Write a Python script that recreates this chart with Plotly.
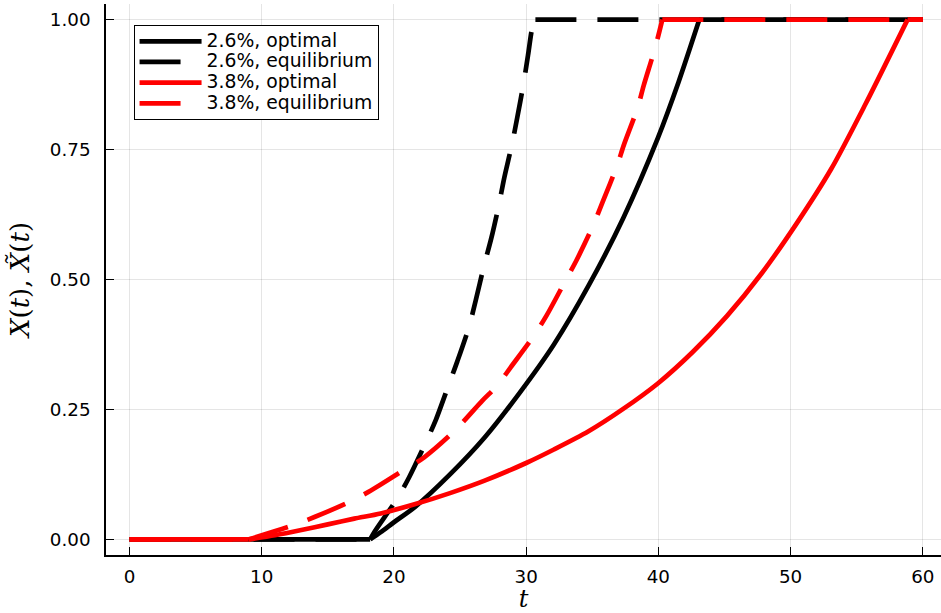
import plotly.graph_objects as go

# ---- data ----
# each series: flat at 0, rising curve, flat at 1 until t = 60
t_opt26 = [0, 18.2, 19.0, 20.0, 21.62, 24.24, 26.86, 29.48, 32.1, 34.72, 37.34, 39.96, 41.53, 43.1, 60]
x_opt26 = [0, 0, 0.014, 0.033, 0.063, 0.125, 0.196, 0.281, 0.375, 0.488, 0.618, 0.772, 0.88, 1.0, 1.0]

t_eq26 = [0, 18.2, 18.57, 20.28, 21.16, 22.42, 23.17, 24.18, 24.8, 25.69, 26.19, 26.8, 27.37, 27.95,
          28.33, 28.96, 29.33, 29.79, 30.14, 30.47, 30.7, 60]
x_eq26 = [0, 0, 0.016, 0.08, 0.12, 0.187, 0.23, 0.30, 0.343, 0.41, 0.46, 0.525, 0.58, 0.645,
          0.694, 0.764, 0.812, 0.875, 0.931, 0.985, 1.0, 1.0]

t_opt38 = [0, 9.0, 11.0, 13.0, 15.0, 17.0, 19.0, 21.62, 24.24, 26.86, 30.0, 32.1, 34.72, 37.34, 39.96,
           42.58, 45.2, 47.82, 50.44, 53.06, 55.68, 58.85, 60]
x_opt38 = [0, 0, 0.008, 0.018, 0.029, 0.040, 0.050, 0.068, 0.089, 0.113, 0.147, 0.173, 0.208, 0.251, 0.300,
           0.360, 0.430, 0.512, 0.607, 0.712, 0.838, 1.0, 1.0]

t_eq38 = [0, 9.0, 12.35, 13.99, 16.63, 18.26, 20.78, 22.29, 24.55, 26.69, 27.82, 28.83, 30.59,
          31.55, 32.98, 33.81, 35.07, 35.75, 36.88, 37.38, 38.44, 38.89, 39.77, 40.3, 60]
x_eq38 = [0, 0, 0.027, 0.043, 0.072, 0.094, 0.134, 0.158, 0.208, 0.267, 0.296, 0.331, 0.392,
          0.431, 0.498, 0.537, 0.604, 0.647, 0.719, 0.758, 0.831, 0.873, 0.947, 1.0, 1.0]

series_names = ["2.6%, optimal", "2.6%, equilibrium", "3.8%, optimal", "3.8%, equilibrium"]
series_colors = ["#000000", "#000000", "#FF0000", "#FF0000"]
series_dashed = [False, True, False, True]
x_ticks = [0, 10, 20, 30, 40, 50, 60]
y_ticks = [0.0, 0.25, 0.5, 0.75, 1.0]

LW = 4.7
DASH = "41px,21px"

fig = go.Figure()
all_t = [t_opt26, t_eq26, t_opt38, t_eq38]
all_x = [x_opt26, x_eq26, x_opt38, x_eq38]
for i, (tt, xx) in enumerate(zip(all_t, all_x)):
    style = dict(color=series_colors[i], width=LW)
    if series_dashed[i]:
        style["dash"] = DASH
    grp = f"g{i}"
    label = f'<span style="font-size:18.8px">{series_names[i]}</span>'
    # flat part at zero
    fig.add_trace(go.Scatter(x=tt[:2], y=xx[:2], mode="lines", line=dict(**style),
                             legendgroup=grp, showlegend=False, hoverinfo="skip"))
    # rising curve
    fig.add_trace(go.Scatter(x=tt[1:-1], y=xx[1:-1], mode="lines", name=label,
                             line=dict(shape="spline", smoothing=0.8, **style),
                             legendgroup=grp, showlegend=True))
    # flat part at one
    fig.add_trace(go.Scatter(x=tt[-2:], y=xx[-2:], mode="lines", line=dict(**style),
                             legendgroup=grp, showlegend=False, hoverinfo="skip"))

tickfont = dict(family="DejaVu Sans", size=18.3, color="#000000")
axis_common = dict(
    showline=True, linecolor="#000000", linewidth=1.5, mirror=False,
    ticks="inside", ticklen=8, tickwidth=1.2, tickcolor="#000000",
    showgrid=True, gridcolor="rgba(0,0,0,0.1)", gridwidth=1,
    zeroline=False, tickfont=tickfont, automargin=False,
)

fig.update_layout(
    width=941, height=613,
    margin=dict(l=106, r=0, t=4, b=58, autoexpand=False),
    paper_bgcolor="white", plot_bgcolor="white",
    showlegend=True,
    legend=dict(
        x=0.033, y=0.962, xanchor="left", yanchor="top",
        bgcolor="white", bordercolor="#000000", borderwidth=1,
        font=dict(family="DejaVu Sans", size=13.6, color="#000000"),
        itemwidth=62, tracegroupgap=0, traceorder="normal",
    ),
    xaxis=dict(
        range=[-1.78, 61.38], tickvals=x_ticks, ticktext=[str(v) for v in x_ticks],
        ticklabelstandoff=4,
        title=dict(text="<i>t</i>", font=dict(family="DejaVu Serif", size=24, color="#000000"), standoff=9),
        **axis_common,
    ),
    yaxis=dict(
        range=[-0.03, 1.03], tickvals=y_ticks, ticktext=[f"{v:.2f}" for v in y_ticks],
        ticklabelstandoff=10,
        title=dict(text="<i>X</i>(<i>t</i>), <i>X\u0303</i>(<i>t</i>)",
                   font=dict(family="DejaVu Serif", size=26, color="#000000"), standoff=13),
        **axis_common,
    ),
)

fig.write_html(
    "out.html",
    config={"displayModeBar": False},
    post_script="document.body.style.margin='0';document.body.style.padding='0';"
                "document.body.style.overflow='hidden';",
)
